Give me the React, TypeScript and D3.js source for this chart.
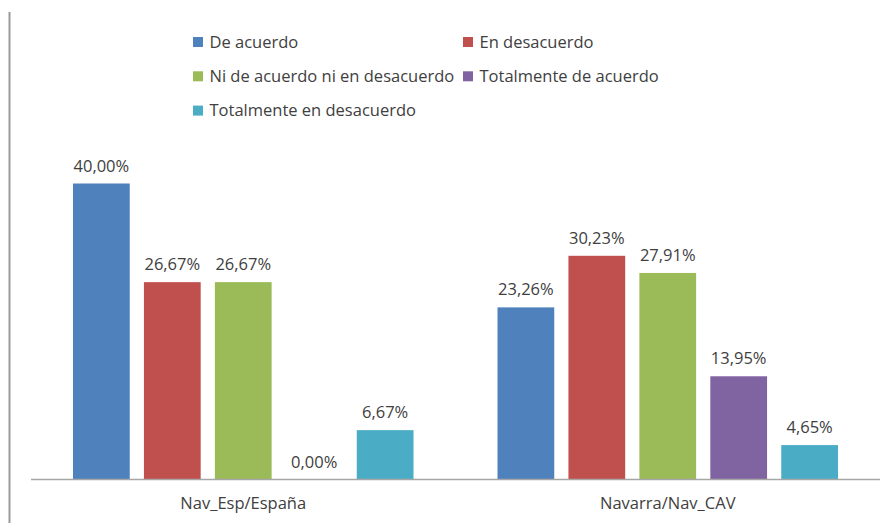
import React, { useEffect, useRef } from 'react';
import * as d3 from 'd3';

const categories = ['Nav_Esp/España', 'Navarra/Nav_CAV'];
const seriesNames = [
  'De acuerdo',
  'En desacuerdo',
  'Ni de acuerdo ni en desacuerdo',
  'Totalmente de acuerdo',
  'Totalmente en desacuerdo',
];
const seriesColors = ['#4F81BD', '#C0504D', '#9BBB59', '#8064A2', '#4BACC6'];
// values per series, one per category
const deAcuerdo = [40.0, 23.26];
const enDesacuerdo = [26.67, 30.23];
const niNi = [26.67, 27.91];
const totalDeAcuerdo = [0.0, 13.95];
const totalEnDesacuerdo = [6.67, 4.65];
const seriesValues = [deAcuerdo, enDesacuerdo, niNi, totalDeAcuerdo, totalEnDesacuerdo];

const FONT = '"Open Sans", sans-serif';

const App = () => {
  const svgRef = useRef<SVGSVGElement>(null);

  useEffect(() => {
    const svg = d3.select(svgRef.current);
    svg.selectAll('*').remove();

    const width = 890;
    const height = 523;
    const plot = { left: 31, right: 880, bottom: 479.5 };

    // scales
    const x0 = d3.scaleBand().domain(categories).range([plot.left, plot.right]).padding(0);
    const x1 = d3.scaleBand()
      .domain(seriesNames)
      .range([42, x0.bandwidth() - 42])
      .paddingInner(0.2)
      .paddingOuter(0);
    const y = d3.scaleLinear().domain([0, 40]).range([plot.bottom, 183.5]);

    svg.append('rect').attr('width', width).attr('height', height).attr('fill', '#fff');

    // left border line
    svg.append('line')
      .attr('x1', 9.5).attr('x2', 9.5)
      .attr('y1', 12).attr('y2', height)
      .attr('stroke', '#9a9a9a').attr('stroke-width', 2);

    const data = categories.flatMap((c, ci) =>
      seriesNames.map((s, si) => ({ cat: c, series: s, color: seriesColors[si], value: seriesValues[si][ci] }))
    );

    const groups = svg.append('g');
    groups.selectAll('rect')
      .data(data)
      .join('rect')
      .attr('x', d => x0(d.cat)! + x1(d.series)!)
      .attr('y', d => y(d.value))
      .attr('width', x1.bandwidth())
      .attr('height', d => y(0) - y(d.value))
      .attr('fill', d => d.color);

    // data labels
    groups.selectAll('text')
      .data(data)
      .join('text')
      .attr('x', d => x0(d.cat)! + x1(d.series)! + x1.bandwidth() / 2)
      .attr('y', d => y(d.value) - 12)
      .attr('text-anchor', 'middle')
      .attr('fill', '#404040')
      .style('font-family', FONT)
      .style('font-size', '16.5px')
      .text(d => d.value.toFixed(2).replace('.', ',') + '%');

    // axis baseline
    svg.append('line')
      .attr('x1', plot.left).attr('x2', plot.right)
      .attr('y1', plot.bottom).attr('y2', plot.bottom)
      .attr('stroke', '#a6a6a6').attr('stroke-width', 1.5);

    // category labels
    svg.append('g')
      .selectAll('text')
      .data(categories)
      .join('text')
      .attr('x', d => x0(d)! + x0.bandwidth() / 2)
      .attr('y', 509)
      .attr('text-anchor', 'middle')
      .attr('fill', '#404040')
      .style('font-family', FONT)
      .style('font-size', '16.5px')
      .text(d => d);

    // legend
    const legend = svg.append('g');
    seriesNames.forEach((name, i) => {
      const col = i % 2;
      const row = Math.floor(i / 2);
      const lx = col === 0 ? 193 : 463;
      const ly = 47.5 + row * 34.3;
      legend.append('rect')
        .attr('x', lx).attr('y', ly - 10.5)
        .attr('width', 10).attr('height', 10)
        .attr('fill', seriesColors[i]);
      legend.append('text')
        .attr('x', lx + 16.5).attr('y', ly)
        .attr('fill', '#404040')
        .style('font-family', FONT)
        .style('font-size', '16.5px')
        .text(name);
    });
  }, []);

  return (
    <svg ref={svgRef} width={890} height={523} style={{ position: 'absolute', left: 0, top: 0 }} />
  );
};

export default App;
